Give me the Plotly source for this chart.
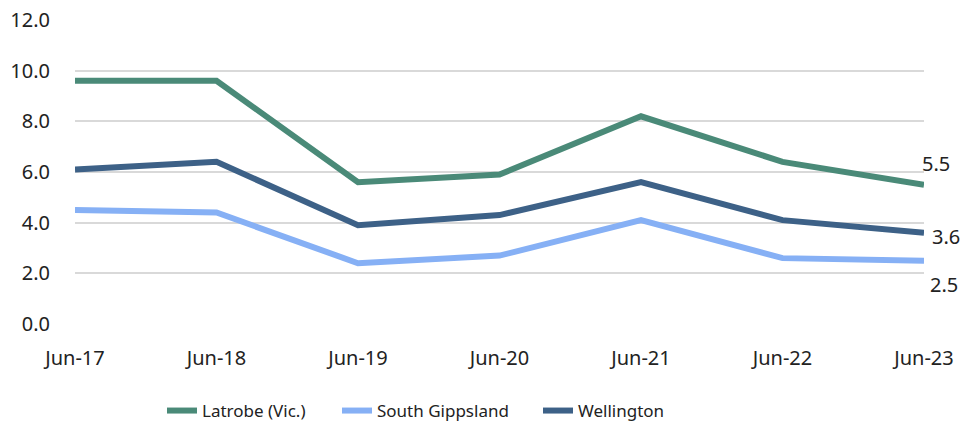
import plotly.graph_objects as go

categories = ["Jun-17", "Jun-18", "Jun-19", "Jun-20", "Jun-21", "Jun-22", "Jun-23"]
latrobe = [9.6, 9.6, 5.6, 5.9, 8.2, 6.4, 5.5]
south_gippsland = [4.5, 4.4, 2.4, 2.7, 4.1, 2.6, 2.5]
wellington = [6.1, 6.4, 3.9, 4.3, 5.6, 4.1, 3.6]
y_ticks = [0, 2, 4, 6, 8, 10, 12]

series = [
    ("Latrobe (Vic.)", latrobe, "#4A8A78", "legend"),
    ("South Gippsland", south_gippsland, "#86B0F5", "legend2"),
    ("Wellington", wellington, "#3D6187", "legend3"),
]

FONT = "Noto Sans, Lato, sans-serif"
TICK = 20
W, H = 971, 426
ML, MR, MT, MB = 75, 47, 20, 102
fig = go.Figure()
for name, vals, col, lg in series:
    fig.add_trace(go.Scatter(x=categories, y=vals, name=name, mode="lines", legend=lg,
                             line=dict(color=col, width=6), hoverinfo="skip"))

# end labels
label_offsets = {"Latrobe (Vic.)": (12, 21), "South Gippsland": (20, -24), "Wellington": (22, -4)}
for name, vals, col, lg in series:
    dx, dy = label_offsets[name]
    fig.add_annotation(x=categories[-1], y=vals[-1], text=f"{vals[-1]:.1f}", showarrow=False,
                       xshift=dx, yshift=dy, font=dict(size=TICK, color="#222222", family=FONT))

pw = W - ML - MR
ph = H - MT - MB
legend_y = (H - MB - 411) / ph
legend_text_x = [202, 377, 578]
legends = {}
for key, tx in zip(["legend", "legend2", "legend3"], legend_text_x):
    legends[key] = dict(orientation="h", x=(tx - 40 - ML) / pw, xanchor="left",
                        y=legend_y, yanchor="middle", font=dict(size=17),
                        bgcolor="rgba(0,0,0,0)")

fig.update_layout(
    width=W, height=H,
    margin=dict(l=ML, r=MR, t=MT, b=MB, autoexpand=False),
    paper_bgcolor="white", plot_bgcolor="white",
    font=dict(family=FONT, size=17, color="#222222"),
    showlegend=True,
    **legends,
)
fig.update_xaxes(type="category", range=[0, 6], showgrid=False, showline=False, zeroline=False,
                 automargin=False, ticks="", ticklabelstandoff=20, tickfont=dict(size=TICK))
fig.update_yaxes(range=[0, 12], tickvals=y_ticks, ticktext=[f"{v:.1f}" for v in y_ticks],
                 automargin=False,
                 showgrid=True, gridcolor="#D9D9D9", gridwidth=2, zeroline=False,
                 showline=False, ticks="", ticklabelstandoff=24, tickfont=dict(size=TICK))

fig.write_html("out.html", config={"displayModeBar": False},
               post_script="document.body.style.margin='0';")
